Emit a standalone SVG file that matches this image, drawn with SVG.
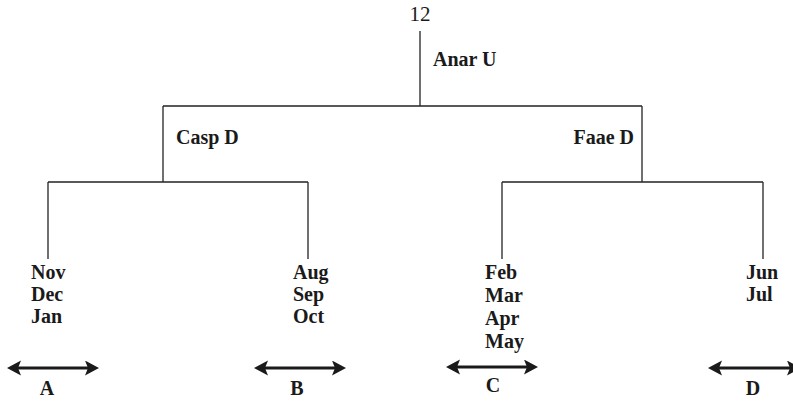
<svg xmlns="http://www.w3.org/2000/svg" width="793" height="401" viewBox="0 0 793 401">
<style>
  .t { font-family: "Liberation Serif", "Times New Roman", serif; font-size: 20px; font-weight: bold; fill: #1a1a1a; }
  .n { font-family: "Liberation Serif", "Times New Roman", serif; font-size: 21px; fill: #1a1a1a; }
  .e { stroke: #222; stroke-width: 1.3; fill: none; }
  .a { stroke: #1a1a1a; stroke-width: 3.2; fill: none; marker-start: url(#ah); marker-end: url(#ah); }
</style>
<defs>
  <marker id="ah" markerUnits="userSpaceOnUse" markerWidth="16" markerHeight="16" viewBox="0 0 16 16" refX="3" refY="7.5" orient="auto-start-reverse">
    <path d="M0,0 L14,7.5 L0,15 L3,7.5 Z" fill="#1a1a1a"/>
  </marker>
</defs>
<rect width="793" height="401" fill="#fff"/>
<g id="connectors">
  <path class="e" d="M420,31 V106"/>
  <path class="e" d="M163,106 H642"/>
  <path class="e" d="M163,106 V182"/>
  <path class="e" d="M642,106 V182"/>
  <path class="e" d="M48,182 H308"/>
  <path class="e" d="M502,182 H763"/>
  <path class="e" d="M48,182 V259"/>
  <path class="e" d="M308,182 V259"/>
  <path class="e" d="M502,182 V259"/>
  <path class="e" d="M763,182 V259"/>
</g>
<g id="root"><text class="n" x="420" y="21" text-anchor="middle">12</text></g>
<g id="anar"><text class="t" x="433" y="66">Anar U</text></g>
<g id="casp"><text class="t" x="176" y="144">Casp D</text></g>
<g id="faae"><text class="t" x="634" y="144" text-anchor="end">Faae D</text></g>
<g id="leafA">
  <text class="t" x="31" y="279">Nov</text>
  <text class="t" x="31" y="301">Dec</text>
  <text class="t" x="31" y="323">Jan</text>
</g>
<g id="leafB">
  <text class="t" x="293" y="279">Aug</text>
  <text class="t" x="293" y="301">Sep</text>
  <text class="t" x="293" y="323">Oct</text>
</g>
<g id="leafC">
  <text class="t" x="485" y="279">Feb</text>
  <text class="t" x="485" y="302">Mar</text>
  <text class="t" x="485" y="325">Apr</text>
  <text class="t" x="485" y="348">May</text>
</g>
<g id="leafD">
  <text class="t" x="746" y="279">Jun</text>
  <text class="t" x="746" y="301">Jul</text>
</g>
<g id="ranges">
  <line class="a" x1="18" y1="368" x2="88" y2="368"/>
  <text class="t" x="47" y="395" text-anchor="middle">A</text>
  <line class="a" x1="265" y1="368" x2="335" y2="368"/>
  <text class="t" x="297" y="395" text-anchor="middle">B</text>
  <line class="a" x1="457" y1="367" x2="527" y2="367"/>
  <text class="t" x="493" y="392" text-anchor="middle">C</text>
  <line class="a" x1="719" y1="368" x2="790" y2="368"/>
  <text class="t" x="753" y="395" text-anchor="middle">D</text>
</g>
</svg>
